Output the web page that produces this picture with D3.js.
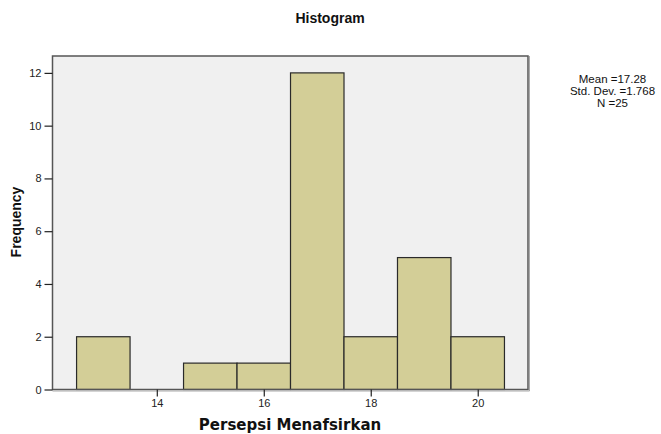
<!DOCTYPE html>
<html><head><meta charset="utf-8">
<script src="https://cdn.jsdelivr.net/npm/d3@7"></script>
<style>body{margin:0;background:#fff}text{font-family:"Liberation Sans",Arial,sans-serif}</style>
</head><body><svg id="c" width="661" height="434"></svg>
<script>
const binCenters = [13, 14, 15, 16, 17, 18, 19, 20];
const frequencies = [2, 0, 1, 1, 12, 2, 5, 2];
const xTicks = [14, 16, 18, 20];
const yTicks = [0, 2, 4, 6, 8, 10, 12];
const statsLines = ["Mean =17.28", "Std. Dev. =1.768", "N =25"];

const svg = d3.select("#c");
const L = 52.5, R = 528, T = 56, B = 389.5;
const x = d3.scaleLinear().domain([12.05, 20.94]).range([L, R]);
const y = d3.scaleLinear().domain([0, 12.64]).range([B, T]);

svg.append("rect").attr("x", L).attr("y", T).attr("width", R - L).attr("height", B - T)
  .attr("fill", "#f0f0f0");

svg.append("g").selectAll("rect").data(binCenters).join("rect")
  .attr("x", d => x(d - 0.5)).attr("width", d => x(d + 0.5) - x(d - 0.5))
  .attr("y", (d, i) => y(frequencies[i])).attr("height", (d, i) => y(0) - y(frequencies[i]))
  .attr("fill", "#d3ce97").attr("stroke", "#2a2a2a").attr("stroke-width", 1.2)
  .style("display", (d, i) => frequencies[i] > 0 ? null : "none");

// frame
svg.append("rect").attr("x", L).attr("y", T).attr("width", R - L).attr("height", B - T)
  .attr("fill", "none").attr("stroke", "#555").attr("stroke-width", 1.5);
svg.append("line").attr("x1", R + 1.5).attr("x2", R + 1.5).attr("y1", T).attr("y2", B + 1.5)
  .attr("stroke", "#aaa").attr("stroke-width", 1);
svg.append("line").attr("x1", L).attr("x2", R + 1.5).attr("y1", B + 1.5).attr("y2", B + 1.5)
  .attr("stroke", "#aaa").attr("stroke-width", 1);

const yAxis = svg.append("g").attr("transform", `translate(${L},0)`)
  .call(d3.axisLeft(y).tickValues(yTicks).tickSize(8).tickPadding(3).tickFormat(d3.format("d")));
const xAxis = svg.append("g").attr("transform", `translate(0,${B})`)
  .call(d3.axisBottom(x).tickValues(xTicks).tickSize(7).tickPadding(3).tickFormat(d3.format("d")));
[yAxis, xAxis].forEach(g => {
  g.select(".domain").remove();
  g.selectAll("line").attr("stroke", "#222").attr("stroke-width", 1.2);
  g.selectAll("text").attr("font-size", 11).attr("fill", "#222")
    .style("font-family", '"Liberation Sans",Arial,sans-serif');
});

svg.append("text").attr("x", 330).attr("y", 23).attr("text-anchor", "middle")
  .attr("font-size", 14).attr("font-weight", "bold").attr("fill", "#111").text("Histogram");
svg.append("text").attr("x", 290).attr("y", 430).attr("text-anchor", "middle")
  .style("font-family", '"DejaVu Sans",sans-serif')
  .attr("font-size", 15).attr("font-weight", "bold").attr("fill", "#111").text("Persepsi Menafsirkan");
svg.append("text").attr("transform", "translate(21,222) rotate(-90)").attr("text-anchor", "middle")
  .attr("font-size", 14).attr("font-weight", "bold").attr("fill", "#111").text("Frequency");

svg.append("g").selectAll("text").data(statsLines).join("text")
  .attr("x", 612.5).attr("y", (d, i) => 83 + i * 12).attr("text-anchor", "middle")
  .attr("font-size", 11.5).attr("fill", "#111").text(d => d);
</script></body></html>
